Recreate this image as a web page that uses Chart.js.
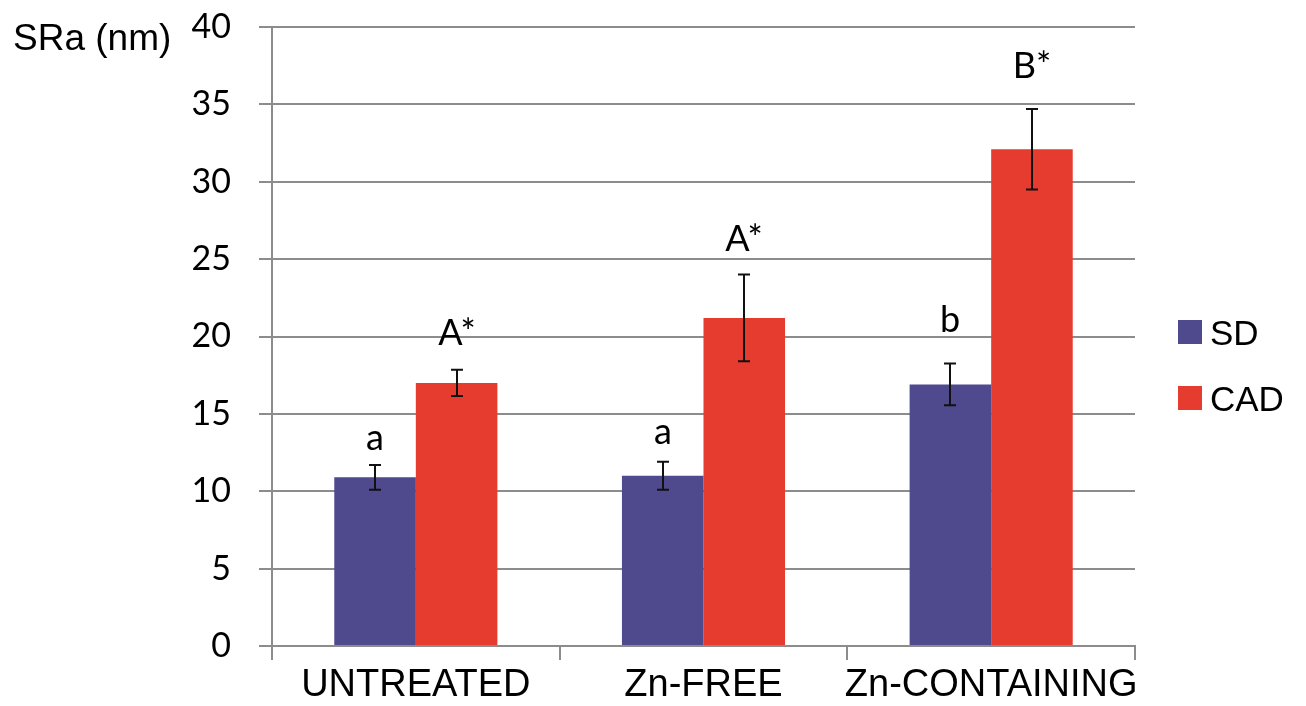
<!DOCTYPE html>
<html>
<head>
<meta charset="utf-8">
<script src="https://cdn.jsdelivr.net/npm/chart.js@4/dist/chart.umd.min.js"></script>
<style>
  html, body { margin: 0; padding: 0; background: #ffffff; }
  #wrap { width: 1306px; height: 706px; position: relative; }
</style>
</head>
<body>
<div id="wrap"><canvas id="c" width="1306" height="706"></canvas></div>
<script>
// Surface roughness (SRa, nm) by treatment group, mean ± SD
const categories = ['UNTREATED', 'Zn-FREE', 'Zn-CONTAINING'];
const seriesNames = ['SD', 'CAD'];
const sdValues  = [10.9, 11.0, 16.9];
const sdErrors  = [0.8, 0.9, 1.35];
const cadValues = [17.0, 21.2, 32.1];
const cadErrors = [0.85, 2.8, 2.6];
// statistical group letters shown above each bar
const sdLetters  = ['a', 'a', 'b'];
const cadLetters = ['A*', 'A*', 'B*'];
// value axis
const yMin = 0, yMax = 40, yStep = 5;
const yTitle = 'SRa (nm)';

const colors = ['#4F498E', '#E63B2F'];
const gridColor = '#8c8c8c';
// vertical gap (px) between error-bar cap and letter baseline
const letterGaps = [[15, 18, 32], [25, 24, 31]];

const errorBarPlugin = {
  id: 'errorBars',
  afterDatasetsDraw(chart) {
    const ctx = chart.ctx;
    const y = chart.scales.y;
    ctx.save();
    ctx.strokeStyle = '#111';
    ctx.lineWidth = 2;
    chart.data.datasets.forEach((ds, di) => {
      const meta = chart.getDatasetMeta(di);
      meta.data.forEach((bar, i) => {
        const v = ds.data[i], e = ds.errors[i];
        const top = y.getPixelForValue(v + e);
        const bot = y.getPixelForValue(v - e);
        const cx = Math.round(bar.x);
        ctx.beginPath();
        ctx.moveTo(cx, top); ctx.lineTo(cx, bot);
        ctx.moveTo(cx - 6, top); ctx.lineTo(cx + 6, top);
        ctx.moveTo(cx - 6, bot); ctx.lineTo(cx + 6, bot);
        ctx.stroke();
        // group letter
        ctx.fillStyle = '#000';
        ctx.font = '36px Lato';
        ctx.textAlign = 'center';
        ctx.textBaseline = 'alphabetic';
        ctx.fillText(ds.letters[i], cx, top - letterGaps[di][i]);
      });
    });
    ctx.restore();
  }
};

const decorPlugin = {
  id: 'decor',
  afterDraw(chart) {
    const ctx = chart.ctx;
    const area = chart.chartArea;
    ctx.save();
    // axis title, horizontal at top left
    ctx.fillStyle = '#000';
    ctx.font = '37px "Liberation Sans"';
    ctx.textAlign = 'left';
    ctx.textBaseline = 'alphabetic';
    ctx.fillText(yTitle, 13, 50);
    // legend on the right
    const lx = area.right + 43;
    const tops = [320, 386];
    chart.data.datasets.forEach((ds, di) => {
      ctx.fillStyle = ds.backgroundColor;
      ctx.fillRect(lx, tops[di], 24, 24);
      ctx.fillStyle = '#000';
      ctx.font = '35px "Liberation Sans"';
      ctx.fillText(ds.label, lx + 32, tops[di] + 25);
    });
    ctx.restore();
  }
};

new Chart(document.getElementById('c'), {
  type: 'bar',
  data: {
    labels: categories,
    datasets: [
      { label: seriesNames[0], data: sdValues, errors: sdErrors, letters: sdLetters,
        backgroundColor: colors[0], borderWidth: 0 },
      { label: seriesNames[1], data: cadValues, errors: cadErrors, letters: cadLetters,
        backgroundColor: colors[1], borderWidth: 0 }
    ]
  },
  options: {
    responsive: false,
    animation: false,
    devicePixelRatio: 1,
    layout: { padding: { top: 27, right: 171, left: 0, bottom: 0 } },
    datasets: { bar: { categoryPercentage: 0.567, barPercentage: 1.0 } },
    plugins: { legend: { display: false }, tooltip: { enabled: false }, title: { display: false } },
    scales: {
      x: {
        grid: { offset: true, drawOnChartArea: false, drawTicks: true, tickLength: 14,
                color: gridColor, lineWidth: 2 },
        border: { display: true, color: gridColor, width: 2 },
        ticks: { color: '#000', font: { family: 'Liberation Sans', size: 38 }, padding: 3,
                 maxRotation: 0, autoSkip: false },
        afterFit(s) { s.height = 60; s.paddingLeft = 0; s.paddingRight = 0; }
      },
      y: {
        min: yMin, max: yMax,
        ticks: { stepSize: yStep, color: '#000', font: { family: 'Lato', size: 34 }, padding: 28 },
        grid: { color: gridColor, lineWidth: 2, tickLength: 13 },
        border: { display: true, color: gridColor, width: 2 },
        afterFit(s) { s.width = 272; s.paddingTop = 0; s.paddingBottom = 0; }
      }
    }
  },
  plugins: [errorBarPlugin, decorPlugin]
});
</script>
</body>
</html>
